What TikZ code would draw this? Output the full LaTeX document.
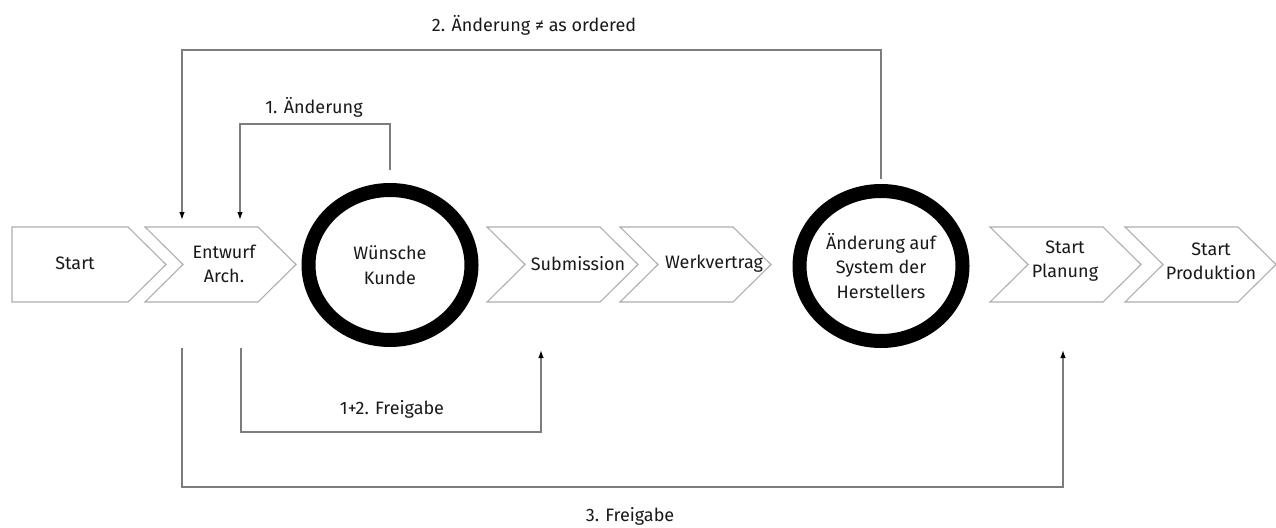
\documentclass[tikz,border=0pt]{standalone}
\usepackage{fontspec}
\setmainfont{Fira Sans}
\usetikzlibrary{arrows.meta,shapes.geometric}

\definecolor{linegray}{RGB}{125,125,125}
\definecolor{chevgray}{RGB}{175,175,175}
\definecolor{inkgray}{RGB}{25,25,25}

\tikzset{
  lbl/.style={font=\fontsize{18}{24}\selectfont, text=inkgray, align=center, inner sep=0pt},
  chevline/.style={draw=chevgray, line width=1.1pt, line join=miter},
  ring/.style={ellipse, draw=black, line width=14pt, minimum width=163pt,
               minimum height=150pt, inner sep=0pt, fill=white,
               font=\fontsize{18}{24.5}\selectfont, text=inkgray, align=center},
  conn/.style={draw=linegray, line width=1.3pt},
  tip/.style={-{Latex[length=8pt,width=5.5pt,color=black]}}
}

\begin{document}
\begin{tikzpicture}[x=1pt,y=-1pt]
  \useasboundingbox (0,0) rectangle (1276,527);
  \fill[white] (0,0) rectangle (1276,527);

  % process chevrons: first one with a flat left edge, the others notched
  \draw[chevline] (12,227) -- (128,227) -- (166,264.5) -- (128,302) -- (12,302) -- cycle;
  \foreach \xl in {145, 487, 620, 990, 1125}{
    \draw[chevline] (\xl,227) -- (\xl+113,227) -- (\xl+151,264.5)
      -- (\xl+113,302) -- (\xl,302) -- (\xl+38,264.5) -- cycle;
  }

  % step labels
  \node[lbl] (start)  at (75,263)    {Start};
  \node[lbl] (entw)   at (224,263.5) {Entwurf\\Arch.};
  \node[lbl] (subm)   at (578,264)   {Submission};
  \node[lbl] (werk)   at (714,264)   {Werkvertrag};
  \node[lbl] (plan)   at (1065,261.5){Start\\Planung};
  \node[lbl] (prod)   at (1211,261.5){Start\\Produktion};

  % decision rings
  \node[ring] (wk) at (390,265) {W\"unsche\\Kunde};
  \node[ring] (ah) at (881,266) {\"Anderung auf\\System der\\Herstellers};

  % connector end points and routing levels
  \coordinate (inA)   at (240,220);
  \coordinate (inB)   at (182,220);
  \coordinate (outA)  at (241,348);
  \coordinate (outB)  at (182,348);
  \coordinate (toSub) at (541,350);
  \coordinate (toPl)  at (1063,350);
  \coordinate (lvA) at (0,124);
  \coordinate (lvB) at (0,50);
  \coordinate (lvC) at (0,432);
  \coordinate (lvD) at (0,487);

  % feedback loops
  \draw[conn,tip] ([yshift=13pt]wk.north) -- (wk.north |- lvA) -- (inA |- lvA) -- (inA);
  \draw[conn,tip] ([yshift=5pt]ah.north) -- (ah.north |- lvB) -- (inB |- lvB) -- (inB);
  % approval paths
  \draw[conn,tip] (outA) -- (outA |- lvC) -- (toSub |- lvC) -- (toSub);
  \draw[conn,tip] (outB) -- (outB |- lvD) -- (toPl |- lvD) -- (toPl);

  % loop labels
  \node[lbl] (l1) at (314,107) {1. \"Anderung};
  \node[lbl] (l2) at (534,25)  {2. \"Anderung ≠ as ordered};
  \node[lbl] (l3) at (392,409) {1+2. Freigabe};
  \node[lbl] (l4) at (630,516) {3. Freigabe};
\end{tikzpicture}
\end{document}
